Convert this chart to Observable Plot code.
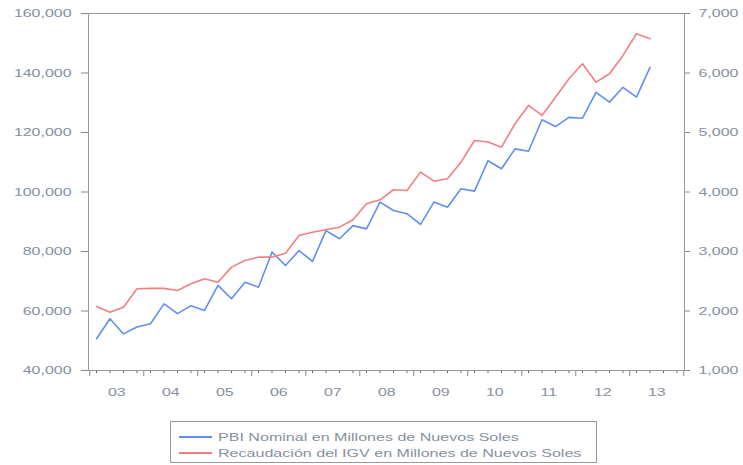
<!DOCTYPE html>
<html>
<head>
<meta charset="utf-8">
<script src="https://cdn.jsdelivr.net/npm/d3@7"></script>
<script src="https://cdn.jsdelivr.net/npm/@observablehq/plot@0.6"></script>
<style>
  html, body { margin: 0; padding: 0; background: #fff; }
  #wrap { position: relative; width: 743px; height: 465px; overflow: hidden; font-family: "Liberation Sans", Arial, sans-serif; }
  #legend { position: absolute; left: 170px; top: 421px; width: 427px; height: 42px; border: 1px solid #999; box-sizing: border-box; font-size: 11px; color: #8590a0; }
  .row { position: absolute; left: 8px; display: flex; align-items: center; height: 14px; white-space: nowrap; }
  .sw { width: 33px; height: 0; border-top: 2px solid; margin-right: 6px; }
  .tx { display: inline-block; transform: scaleX(1.46); transform-origin: left center; }
</style>
</head>
<body>
<div id="wrap">
  <div id="chart"></div>
  <div id="legend"></div>
</div>
<script>
// Quarterly data, 2003Q1 – 2013Q2
const startYear = 2003;
const pbiNominal = [50650, 57400, 52300, 54600, 55700, 62400, 59100, 61800, 60200, 68600, 64100, 69700, 68000, 79800, 75300, 80300, 76700, 87000, 84300, 88700, 87600, 96600, 93800, 92700, 89100, 96600, 94900, 101100, 100300, 110500, 107800, 114500, 113700, 124300, 122000, 125100, 124800, 133500, 130200, 135200, 131900, 141900];
const recaudacionIGV = [2076, 1980, 2064, 2373, 2380, 2380, 2345, 2457, 2541, 2484, 2737, 2849, 2905, 2905, 2972, 3269, 3325, 3365, 3409, 3533, 3802, 3869, 4038, 4026, 4334, 4182, 4222, 4502, 4866, 4840, 4754, 5147, 5455, 5287, 5594, 5903, 6155, 5846, 5987, 6295, 6660, 6576];
const yearLabels = ["03", "04", "05", "06", "07", "08", "09", "10", "11", "12", "13"];
const leftTicks = [40000, 60000, 80000, 100000, 120000, 140000, 160000];
const rightTicks = [1000, 2000, 3000, 4000, 5000, 6000, 7000];
const seriesNames = ["PBI Nominal en Millones de Nuevos Soles", "Recaudación del IGV en Millones de Nuevos Soles"];
const colors = ["#5f8ff2", "#f37f82"];

// right axis mapped onto left scale
const toLeft = v => 40000 + (v - 1000) * 20;
const toRight = v => (v - 40000) / 20 + 1000;

const pbiData = pbiNominal.map((v, i) => ({t: startYear + i / 4, v}));
const igvData = recaudacionIGV.map((v, i) => ({t: startYear + i / 4, v: toLeft(v)}));

const quarterTicks = d3.range(0, 44).map(i => startYear + i / 4);
const yearBounds = d3.range(0, 12).map(i => startYear + i - 0.125);
const labelPos = yearLabels.map((s, i) => startYear + i + 0.375);
const axisColor = "#8590a0";

const chart = Plot.plot({
  width: 743,
  height: 415,
  marginLeft: 88,
  marginRight: 59,
  marginTop: 13,
  marginBottom: 45,
  style: {fontFamily: "Liberation Sans, Arial, sans-serif", fontSize: "11px", color: axisColor, background: "#fff"},
  x: {domain: [2002.852, 2013.889]},
  y: {domain: [40000, 160000]},
  marks: [
    Plot.axisY({ticks: leftTicks, tickFormat: d3.format(","), tickSize: 7, tickPadding: 10, label: null, stroke: "#888", fill: axisColor}),
    Plot.axisY({anchor: "right", ticks: rightTicks.map(toLeft), tickFormat: v => d3.format(",")(toRight(v)), tickSize: 5, tickPadding: 9, label: null, stroke: "#888", fill: axisColor}),
    Plot.axisX({ticks: quarterTicks, tickSize: 3, tickFormat: () => "", label: null, stroke: "#666"}),
    Plot.axisX({ticks: yearBounds, tickSize: 6, tickFormat: () => "", label: null, stroke: "#888"}),
    Plot.axisX({ticks: labelPos, tickSize: 0, tickPadding: 18, tickFormat: (d, i) => yearLabels[i], label: null, fill: axisColor}),
    Plot.frame({stroke: "#999"}),
    Plot.lineY(pbiData, {x: "t", y: "v", stroke: colors[0], strokeWidth: 1.6}),
    Plot.lineY(igvData, {x: "t", y: "v", stroke: colors[1], strokeWidth: 1.6})
  ]
});
// widen tick label glyphs horizontally, as in the reference
d3.select(chart).selectAll("g[aria-label$='tick label'] text").each(function() {
  const el = d3.select(this);
  const x = +el.attr("x") || 0, y = +el.attr("y") || 0;
  const tr = el.attr("transform") || "";
  el.attr("transform", `${tr} translate(${x},${y}) scale(1.45,1) translate(${-x},${-y})`);
});
document.getElementById("chart").appendChild(chart);

const legend = document.getElementById("legend");
seriesNames.forEach((name, i) => {
  const row = document.createElement("div");
  row.className = "row";
  row.style.top = (8 + i * 16) + "px";
  const sw = document.createElement("div");
  sw.className = "sw";
  sw.style.borderColor = colors[i];
  const tx = document.createElement("span");
  tx.className = "tx";
  tx.textContent = name;
  row.appendChild(sw);
  row.appendChild(tx);
  legend.appendChild(row);
});
</script>
</body>
</html>
